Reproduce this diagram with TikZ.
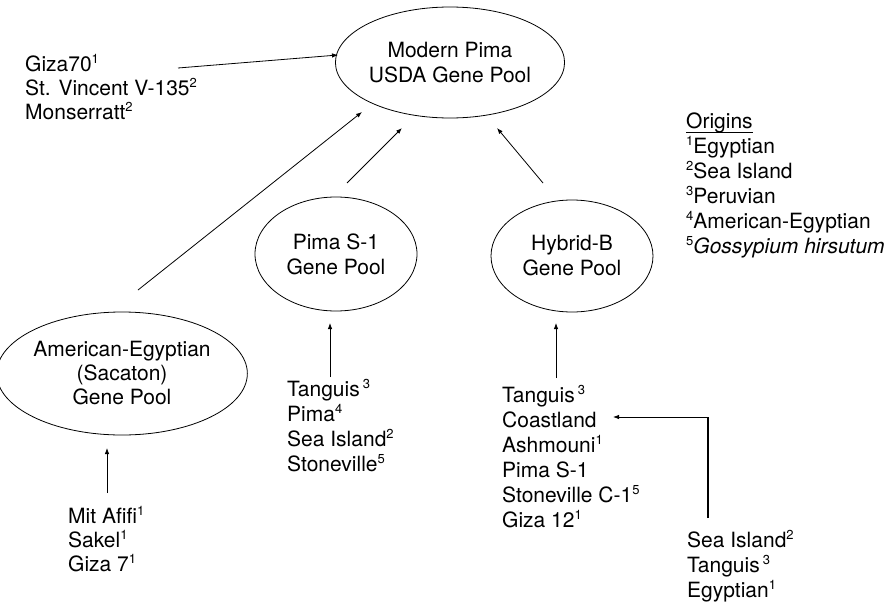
\documentclass[tikz,border=0pt]{standalone}
\usepackage{fontspec}
\setmainfont{TeX Gyre Heros}
\usetikzlibrary{shapes.geometric,arrows.meta}
\newcommand\sups[1]{\raisebox{7.5pt}{\fontsize{13}{13}\selectfont #1}}
\newcommand\ulin[1]{\setbox0\hbox{#1}\rlap{\rule[-4.5pt]{\wd0}{0.9pt}}\box0}
\begin{document}
\begin{tikzpicture}[x=1pt,y=-1pt,
  pool/.style={draw, ellipse, line width=0.8pt, inner sep=0pt, align=center, font=\fontsize{21}{25}\selectfont},
  list/.style={anchor=north west, inner sep=0pt, align=left, font=\fontsize{21}{25}\selectfont},
  tight/.style={font=\fontsize{21}{24}\selectfont},
  conn/.style={line width=0.8pt, -{Latex[length=6pt,width=4.5pt]}}
]
\useasboundingbox (0,0) rectangle (894,605);

% gene pools
\node[pool, minimum width=196pt, minimum height=111pt] (modern) at (450,62.5) {Modern Pima\\USDA Gene Pool};
\node[pool, tight, minimum width=226pt, minimum height=123pt] (ameg) at (122,373.5) {American-Egyptian\\(Sacaton)\\Gene Pool};
\node[pool, minimum width=162pt, minimum height=114pt] (pimas) at (336,254) {Pima S-1\\Gene Pool};
\node[pool, minimum width=162pt, minimum height=112pt] (hybrid) at (572,256) {Hybrid-B\\Gene Pool};

% source lists
\node[list, tight] (giza) at (25,54.2) {\strut Giza70\sups{1}\\St. Vincent V-135\sups{2}\\Monserratt\sups{2}};
\node[list, tight] (mit) at (68,506.2) {\strut Mit Afifi\sups{1}\\Sakel\sups{1}\\Giza 7\sups{1}};
\node[list] (pimalist) at (287,378.5) {\strut Tanguis\hspace{3pt}\sups{3}\\Pima\sups{4}\\Sea Island\sups{2}\\Stoneville\sups{5}};
\node[list] (hyblist) at (502,384.5) {\strut Tanguis\hspace{3pt}\sups{3}\\Coastland\\Ashmouni\sups{1}\\Pima S-1\\Stoneville C-1\sups{5}\\Giza 12\sups{1}};
\node[list] (sealist) at (687,529.5) {\strut Sea Island\sups{2}\\Tanguis\hspace{3pt}\sups{3}\\Egyptian\sups{1}};

% legend
\node[list] (legend) at (686,110.5) {\strut\ulin{Origins}\\\sups{1}Egyptian\\\sups{2}Sea Island\\\sups{3}Peruvian\\\sups{4}American-Egyptian\\\sups{5}\textit{Gossypium hirsutum}};

% connector end points
\coordinate (gizaS) at (178,68);   \coordinate (gizaT) at (338,55);
\coordinate (amegS) at (138,290);  \coordinate (amegT) at (362,112);
\coordinate (pimasS) at (347,183); \coordinate (pimasT) at (402,128);
\coordinate (hybS) at (543,183);   \coordinate (hybT) at (497,128);
\coordinate (mitS) at (107,493);   \coordinate (mitT) at (107,448);
\coordinate (plS) at (330,377);    \coordinate (plT) at (330,323);
\coordinate (hlS) at (556,378);    \coordinate (hlT) at (556,323);
\coordinate (seaS) at (708,518);   \coordinate (seaC) at (708,417);
\coordinate (coastT) at (613,417);

% connectors
\draw[conn] (gizaS) -- (gizaT);
\draw[conn] (amegS) -- (amegT);
\draw[conn] (pimasS) -- (pimasT);
\draw[conn] (hybS) -- (hybT);
\draw[conn] (mitS) -- (mitT);
\draw[conn] (plS) -- (plT);
\draw[conn] (hlS) -- (hlT);
\draw[line width=1.6pt] (seaS) -- (seaC);
\draw[conn] (seaC) -- (coastT);
\end{tikzpicture}
\end{document}
